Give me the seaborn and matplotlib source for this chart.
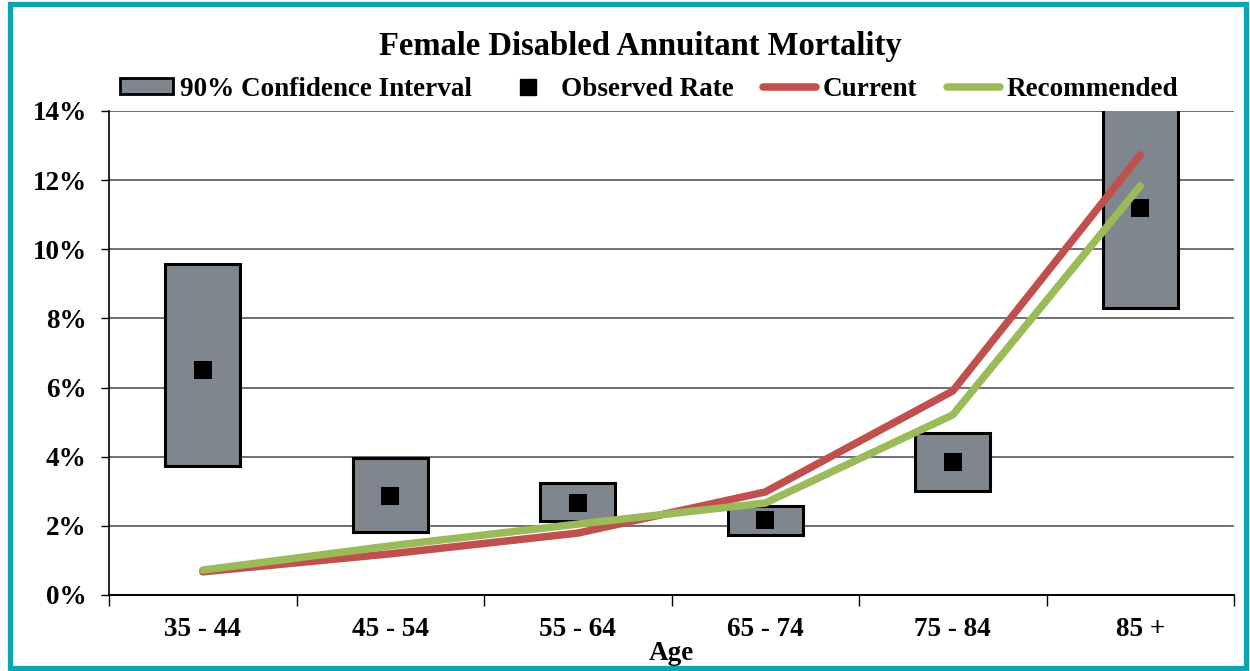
import numpy as np
import pandas as pd
import matplotlib
matplotlib.use("Agg")
import matplotlib.pyplot as plt
from matplotlib.patches import Patch, Rectangle
from matplotlib.lines import Line2D
from matplotlib.ticker import FixedLocator, PercentFormatter
import seaborn as sns

# Mortality rates by age band (percent)
age_groups = ["35 - 44", "45 - 54", "55 - 64", "65 - 74", "75 - 84", "85 +"]
ci_lower = [3.73, 1.82, 2.14, 1.74, 3.01, 8.30]
ci_upper = [9.57, 3.96, 3.24, 2.57, 4.69, 14.30]
observed = [6.51, 2.86, 2.66, 2.17, 3.85, 11.19]
current = [0.67, 1.19, 1.79, 2.98, 5.90, 12.73]
recommended = [0.72, 1.42, 2.05, 2.66, 5.21, 11.83]

sns.set_theme(style="white")
plt.rcParams["font.family"] = ["Liberation Serif", "DejaVu Serif"]
plt.rcParams["font.weight"] = "bold"
for key in ["text.color", "axes.labelcolor", "xtick.color", "ytick.color"]:
    plt.rcParams[key] = "black"

BOX_FILL = "#7f868d"
RED = "#c0504d"
GREEN = "#9bbb59"
TEAL = "#0aa6b5"
FS = 19.5

fig = plt.figure(figsize=(12.5, 6.71), dpi=100)
ax = fig.add_axes([0.0872, 0.1133, 0.9, 0.7213])

pos = np.arange(len(age_groups))
df = pd.DataFrame({
    "pos": pos,
    "age": age_groups,
    "lower": ci_lower,
    "upper": ci_upper,
    "observed": observed,
    "current": current,
    "recommended": recommended,
})

# gridlines
for v in range(2, 15, 2):
    ax.axhline(v, color="#6f6f6f", lw=1.4, zorder=0)

# confidence interval boxes
ax.bar(df["pos"], df["upper"] - df["lower"], bottom=df["lower"], width=0.4,
       color=BOX_FILL, edgecolor="black", linewidth=2.2, zorder=2)

# observed rates
sns.scatterplot(data=df, x="pos", y="observed", marker="s", s=150,
                color="black", edgecolor="black", linewidth=0, ax=ax, zorder=3,
                legend=False)

# assumption curves
sns.lineplot(data=df, x="pos", y="current", color=RED, lw=5.4, ax=ax,
             zorder=4, sort=False, solid_capstyle="round", solid_joinstyle="miter")
sns.lineplot(data=df, x="pos", y="recommended", color=GREEN, lw=5.4, ax=ax,
             zorder=5, sort=False, solid_capstyle="round", solid_joinstyle="miter")

ax.set_xlim(-0.5, 5.5)
ax.set_ylim(0, 14)
ax.set_yticks(np.arange(0, 15, 2))
ax.yaxis.set_major_formatter(PercentFormatter(decimals=0))

ax.xaxis.set_major_locator(FixedLocator(np.arange(-0.5, 6, 1)))
ax.xaxis.set_major_formatter(plt.NullFormatter())
ax.xaxis.set_minor_locator(FixedLocator(pos))
ax.set_xticklabels(age_groups, minor=True)
ax.tick_params(axis="x", which="major", direction="out", length=8, width=1,
               color="black", bottom=True)
ax.tick_params(axis="x", which="minor", length=0, pad=16, labelsize=FS)
ax.tick_params(axis="y", direction="out", length=6, width=1, color="black",
               left=True, labelsize=FS, pad=10)

for side in ["top", "right"]:
    ax.spines[side].set_visible(False)
ax.spines["left"].set_color("black")
ax.spines["left"].set_linewidth(1.2)
ax.spines["bottom"].set_color("black")
ax.spines["bottom"].set_linewidth(1.4)

ax.set_xlabel("Age", fontsize=FS, fontweight="bold", labelpad=-1)
ax.set_ylabel("")

fig.text(0.512, 0.931, "Female Disabled Annuitant Mortality",
         ha="center", va="center", fontsize=23.5, fontweight="bold")

handles = [
    Patch(facecolor=BOX_FILL, edgecolor="black", linewidth=2),
    Line2D([], [], marker="s", color="black", linestyle="none", markersize=11),
    Line2D([], [], color=RED, lw=5.4, solid_capstyle="round"),
    Line2D([], [], color=GREEN, lw=5.4, solid_capstyle="round"),
]
labels = ["90% Confidence Interval", "Observed Rate", "Current", "Recommended"]
fig.legend(handles, labels, loc="center left", bbox_to_anchor=(0.096, 0.867),
           ncol=4, frameon=False, fontsize=FS, handlelength=1.95,
           handleheight=0.55, handletextpad=0.25, columnspacing=1.1,
           borderaxespad=0, borderpad=0)

# outer frame
fig.patches.append(Rectangle((0.0076, 0.004), 0.989, 0.99, transform=fig.transFigure,
                             fill=False, edgecolor=TEAL, linewidth=3.8))

fig.savefig("out.png", dpi=100, facecolor="white")
